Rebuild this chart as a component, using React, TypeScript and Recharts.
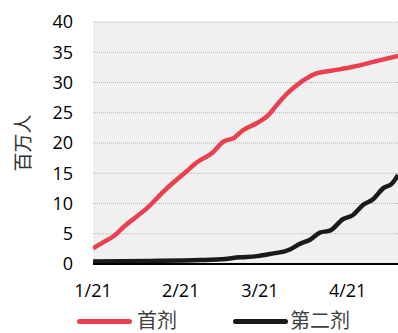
import { CartesianGrid, Label, Line, LineChart, XAxis, YAxis } from "recharts";

// days since 1/21
const days = [0, 4, 7, 11, 15, 19, 25, 28, 33, 37, 42, 46, 50, 53, 58, 62, 65, 68, 73, 79, 85, 92, 99, 107.8];
const firstDose = [2.6, 3.7, 4.5, 6.2, 7.7, 9.2, 12.0, 13.3, 15.3, 16.9, 18.3, 20.2, 20.9, 22.1, 23.3, 24.6, 26.3, 27.9, 29.9, 31.5, 32.0, 32.6, 33.4, 34.4];

const secondDays = [0, 20, 38, 45, 52, 58, 62.5, 69.6, 73, 76.7, 80.2, 83.7, 88.3, 91.9, 95.4, 99, 102.5, 105.7, 107.8];
const secondDose = [0.4, 0.5, 0.65, 0.77, 1.1, 1.3, 1.65, 2.4, 3.3, 4.0, 5.2, 5.5, 7.4, 8.1, 9.75, 10.7, 12.5, 13.3, 14.7];

const xTicks = [0, 31, 59, 90];
const xLabels = ["1/21", "2/21", "3/21", "4/21"];
const yTicks = [0, 5, 10, 15, 20, 25, 30, 35, 40];

const seriesNames = ["首剂", "第二剂"];
const colors = ["#e8404f", "#1a1a1a"];

const firstData = days.map((d, i) => ({ day: d, value: firstDose[i] }));
const secondData = secondDays.map((d, i) => ({ day: d, value: secondDose[i] }));

const font = "'Open Sans', 'Liberation Sans', sans-serif";
const cjk = "'Noto Sans CJK SC', sans-serif";

function ChartLegend() {
  return (
    <div style={{ position: "absolute", left: 0, top: 308, width: 398, height: 25, fontFamily: cjk, fontSize: 20, color: "#404040" }}>
      {[77, 233].map((left, i) => (
        <div key={seriesNames[i]} style={{ position: "absolute", left, top: 0, display: "flex", alignItems: "center", height: 24 }}>
          <div style={{ width: 55, height: 5, borderRadius: 3, background: colors[i], marginRight: i === 0 ? 5 : 2, marginTop: 3 }} />
          <span style={{ lineHeight: "24px" }}>{seriesNames[i]}</span>
        </div>
      ))}
    </div>
  );
}

export default function App() {
  return (
    <div style={{ position: "absolute", left: 0, top: 0, width: 398, height: 333, background: "#fff", overflow: "hidden" }}>
      <LineChart width={398} height={333} margin={{ top: 22, right: 0, bottom: 39, left: 0 }}>
        <CartesianGrid vertical={false} fill="#f0f0f0" stroke="#b4b4b4" strokeDasharray="1 1" />
        <XAxis
          type="number"
          dataKey="day"
          domain={[0, 107.8]}
          ticks={xTicks}
          interval={0}
          height={30}
          tickFormatter={(v: number) => xLabels[xTicks.indexOf(v)]}
          allowDataOverflow
          tickLine={false}
          tickSize={0}
          tickMargin={20}
          axisLine={{ stroke: "#000", strokeWidth: 2 }}
          tick={{ fill: "#000", fontSize: 18, fontFamily: font }}
        />
        <YAxis
          width={93}
          domain={[0, 40]}
          ticks={yTicks}
          interval={0}
          tickLine={false}
          tickSize={0}
          tickMargin={20}
          axisLine={false}
          tick={{ fill: "#000", fontSize: 18, fontFamily: font }}
        >
          <Label value="百万人" angle={-90} position="center" dx={-23} style={{ fontFamily: cjk, fontSize: 19, fill: "#303030" }} />
        </YAxis>
        <Line data={firstData} dataKey="value" name={seriesNames[0]} type="monotone" stroke={colors[0]} strokeWidth={4.5} dot={false} isAnimationActive={false} />
        <Line data={secondData} dataKey="value" name={seriesNames[1]} type="monotone" stroke={colors[1]} strokeWidth={4.5} dot={false} isAnimationActive={false} />
      </LineChart>
      <ChartLegend />
    </div>
  );
}
